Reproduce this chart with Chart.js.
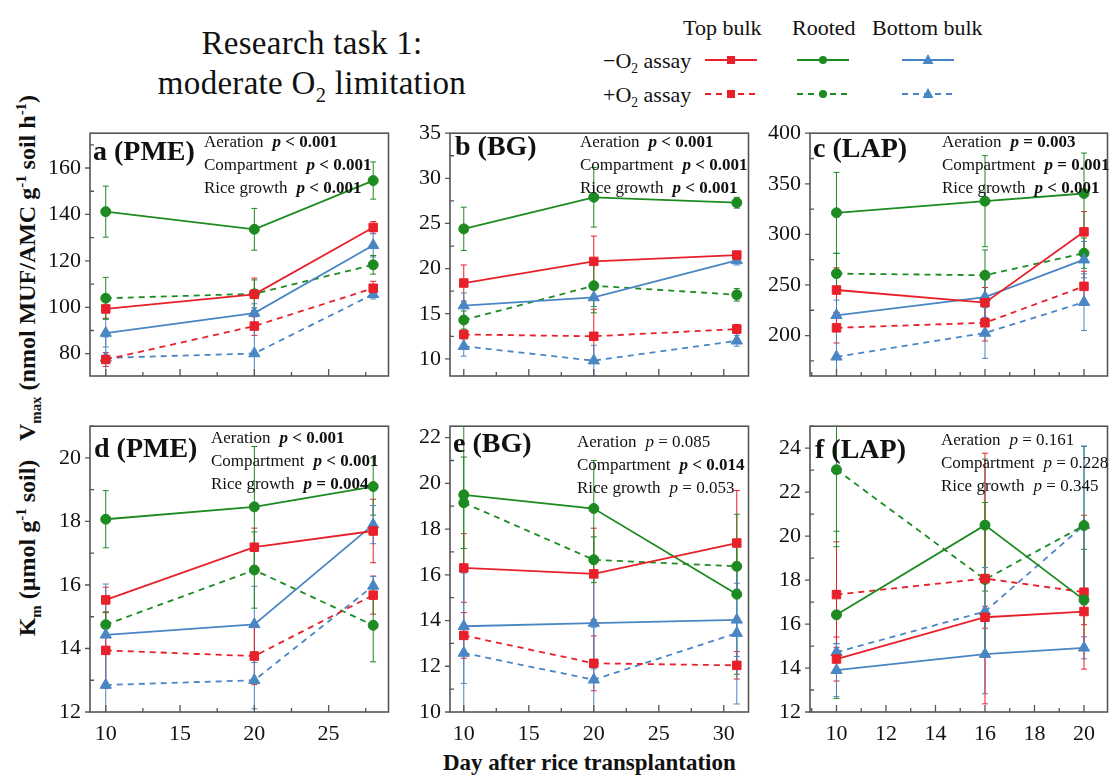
<!DOCTYPE html>
<html>
<head>
<meta charset="utf-8">
<script src="https://cdn.jsdelivr.net/npm/chart.js@4.4.0/dist/chart.umd.min.js"></script>
<style>
  body { margin: 0; background: #fff; }
  #page { position: relative; width: 1115px; height: 778px; overflow: hidden; font-family: "Liberation Serif", "Times New Roman", serif; color: #111; }
  canvas { position: absolute; }
  .txt { position: absolute; white-space: nowrap; line-height: 1; }
  .title { font-size: 33px; width: 600px; text-align: center; letter-spacing: 0.3px; }
  .leg { font-size: 22px; }
  .axlab { font-size: 24px; font-weight: bold; }
  sub, sup { font-size: 62%; line-height: 0; }
  .rot { transform: translate(-50%, -50%) rotate(-90deg); }
</style>
</head>
<body>
<div id="page">
  <div class="txt title" style="left:12px; top:27px;">Research task 1:</div>
  <div class="txt title" style="left:12px; top:67px;">moderate O<sub>2</sub> limitation</div>

  <div class="txt leg" style="left:683px; top:17px;">Top bulk</div>
  <div class="txt leg" style="left:792px; top:17px;">Rooted</div>
  <div class="txt leg" style="left:872px; top:17px;">Bottom bulk</div>
  <div class="txt leg" style="left:603px; top:50px;">&minus;O<sub>2</sub> assay</div>
  <div class="txt leg" style="left:603px; top:84px;">+O<sub>2</sub> assay</div>
  <svg id="legendKeys" style="position:absolute; left:0; top:0;" width="1115" height="110"></svg>

  <div class="txt axlab rot" style="left:27px; top:268px;">V<sub>max</sub> (nmol MUF/AMC g<sup>-1</sup> soil h<sup>-1</sup>)</div>
  <div class="txt axlab rot" style="left:27px; top:548px;">K<sub>m</sub> (&micro;mol g<sup>-1</sup> soil)</div>
  <div class="txt axlab" style="left:443px; top:751px; font-size:23px;">Day after rice transplantation</div>

  <canvas id="chartA"></canvas>
  <canvas id="chartB"></canvas>
  <canvas id="chartC"></canvas>
  <canvas id="chartD"></canvas>
  <canvas id="chartE"></canvas>
  <canvas id="chartF"></canvas>
</div>

<script>
// sampling days per enzyme
const daysPME = [10, 20, 28];
const daysBG = [10, 20, 31];
const daysLAP = [10, 16, 20];

// series order in every table below:
// top bulk -O2, rooted -O2, bottom bulk -O2, top bulk +O2, rooted +O2, bottom bulk +O2
const vmaxPME = [
  [99.3, 105.6, 134.4],
  [141.2, 133.6, 154.6],
  [88.9, 97.5, 126.7],
  [77.5, 91.9, 108.2],
  [103.9, 105.8, 118.3],
  [78.2, 80.1, 105.6]
];
const vmaxPMEse = [
  [4, 7, 2.5], [11, 9, 8], [6, 4, 5],
  [3, 4, 3], [9, 6, 4], [9, 17, 2]
];

const vmaxBG = [
  [18.4, 20.8, 21.5],
  [24.4, 27.9, 27.3],
  [15.9, 16.8, 20.9],
  [12.7, 12.5, 13.3],
  [14.3, 18.1, 17.1],
  [11.4, 9.8, 12.0]
];
const vmaxBGse = [
  [2, 2.8, 0.3], [2.4, 3.3, 0.6], [1.4, 1, 0.5],
  [0.5, 3, 0.5], [1, 3, 0.7], [1.1, 1.7, 0.6]
];

const vmaxLAP = [
  [245, 232.5, 302.5],
  [321.3, 332.8, 340.4],
  [220, 238, 275],
  [207.6, 212.6, 248.6],
  [261.2, 259.6, 281.4],
  [179, 202.5, 233]
];
const vmaxLAPse = [
  [22, 15, 20], [40, 45, 40], [15, 20, 18],
  [15, 18, 15], [20, 25, 15], [25, 25, 28]
];

const kmPME = [
  [15.53, 17.19, 17.7],
  [18.07, 18.46, 19.1],
  [14.43, 14.76, 17.9],
  [13.94, 13.76, 15.68],
  [14.75, 16.47, 14.73],
  [12.85, 13.0, 15.97]
];
const kmPMEse = [
  [0.4, 0.6, 1.0], [0.9, 1.9, 0.9], [1.6, 1.2, 0.6],
  [1.2, 0.9, 0.6], [0.4, 1.2, 1.15], [1.2, 0.9, 0.3]
];

const kmBG = [
  [16.3, 16.04, 17.39],
  [19.5, 18.9, 15.15],
  [13.75, 13.89, 14.03],
  [13.35, 12.13, 12.04],
  [19.15, 16.66, 16.37],
  [12.58, 11.41, 13.45]
];
const kmBGse = [
  [1.5, 2, 2.3], [3.2, 2.1, 3.5], [2.5, 2, 1.6],
  [1, 1.2, 0.6], [2, 1, 1], [3.5, 2.3, 3.1]
];

const kmLAP = [
  [14.41, 16.31, 16.57],
  [16.42, 20.5, 17.1],
  [13.9, 14.63, 14.92],
  [17.34, 18.07, 17.45],
  [23.02, 18.03, 20.48],
  [14.72, 16.57, 20.5]
];
const kmLAPse = [
  [1, 0.5, 0.6], [3.8, 3, 2.3], [1.2, 1.8, 0.5],
  [2.4, 5.7, 3.5], [3.5, 3.5, 3.6], [0.4, 2, 3.6]
];

// axis tick labels
const xTicksPME = [10, 15, 20, 25];
const xTicksBG = [10, 15, 20, 25, 30];
const xTicksLAP = [10, 12, 14, 16, 18, 20];
const yTicksVmaxPME = [80, 100, 120, 140, 160];
const yTicksVmaxBG = [10, 15, 20, 25, 30, 35];
const yTicksVmaxLAP = [200, 250, 300, 350, 400];
const yTicksKmPME = [12, 14, 16, 18, 20];
const yTicksKmBG = [10, 12, 14, 16, 18, 20, 22];
const yTicksKmLAP = [12, 14, 16, 18, 20, 22, 24];

// ANOVA results printed in each panel: [factor, relation, p, significant]
const statsA = [['Aeration', '<', '0.001', true], ['Compartment', '<', '0.001', true], ['Rice growth', '<', '0.001', true]];
const statsB = [['Aeration', '<', '0.001', true], ['Compartment', '<', '0.001', true], ['Rice growth', '<', '0.001', true]];
const statsC = [['Aeration', '=', '0.003', true], ['Compartment', '=', '0.001', true], ['Rice growth', '<', '0.001', true]];
const statsD = [['Aeration', '<', '0.001', true], ['Compartment', '<', '0.001', true], ['Rice growth', '=', '0.004', true]];
const statsE = [['Aeration', '=', '0.085', false], ['Compartment', '<', '0.014', true], ['Rice growth', '=', '0.053', false]];
const statsF = [['Aeration', '=', '0.161', false], ['Compartment', '=', '0.228', false], ['Rice growth', '=', '0.345', false]];

const RED = '#e8202a', GREEN = '#1e8a22', BLUE = '#4a86c4';
const seriesStyle = [
  { color: RED, point: 'rect', radius: 6, dash: [] },
  { color: GREEN, point: 'circle', radius: 5, dash: [] },
  { color: BLUE, point: 'triangle', radius: 6.5, dash: [] },
  { color: RED, point: 'rect', radius: 6, dash: [6, 5] },
  { color: GREEN, point: 'circle', radius: 5, dash: [6, 5] },
  { color: BLUE, point: 'triangle', radius: 6.5, dash: [6, 5] }
];

const SERIF = '"Liberation Serif", "Times New Roman", serif';

// vertical error bars with small caps, clipped to the plot box
const errorBarPlugin = {
  id: 'errorBars',
  beforeDatasetsDraw(chart) {
    const { ctx, chartArea: a } = chart;
    const ys = chart.scales.y;
    ctx.save();
    ctx.beginPath();
    ctx.rect(a.left, a.top, a.right - a.left, a.bottom - a.top);
    ctx.clip();
    chart.data.datasets.forEach((ds, i) => {
      const meta = chart.getDatasetMeta(i);
      ctx.strokeStyle = ds.borderColor;
      ctx.lineWidth = 1;
      ctx.setLineDash([]);
      meta.data.forEach((pt, j) => {
        const v = ds.data[j].y, e = ds.errors[j];
        const y1 = ys.getPixelForValue(v + e);
        const y2 = ys.getPixelForValue(v - e);
        ctx.beginPath();
        ctx.moveTo(pt.x, y1); ctx.lineTo(pt.x, y2);
        ctx.moveTo(pt.x - 3, y1); ctx.lineTo(pt.x + 3, y1);
        ctx.moveTo(pt.x - 3, y2); ctx.lineTo(pt.x + 3, y2);
        ctx.stroke();
      });
    });
    ctx.restore();
  }
};

function minorsOf(ticks, min, max) {
  const step = ticks[1] - ticks[0];
  const out = [];
  for (let v = ticks[0] - step / 2; v <= max; v += step) {
    if (v >= min) out.push(v);
  }
  return out;
}

// plot box, tick marks, panel letter and statistics text
const framePlugin = {
  id: 'frame',
  afterDraw(chart, args, opts) {
    const { ctx, chartArea: a } = chart;
    const xs = chart.scales.x, ys = chart.scales.y;
    ctx.save();
    ctx.strokeStyle = '#555';
    ctx.lineWidth = 1.6;
    ctx.setLineDash([]);
    ctx.strokeRect(a.left, a.top, a.right - a.left, a.bottom - a.top);

    ctx.lineWidth = 1.3;
    ctx.beginPath();
    opts.xTicks.forEach(v => {
      const x = xs.getPixelForValue(v);
      ctx.moveTo(x, a.bottom); ctx.lineTo(x, a.bottom - 7);
    });
    minorsOf(opts.xTicks, xs.min, xs.max).forEach(v => {
      const x = xs.getPixelForValue(v);
      ctx.moveTo(x, a.bottom); ctx.lineTo(x, a.bottom - 4);
    });
    opts.yTicks.forEach(v => {
      const y = ys.getPixelForValue(v);
      ctx.moveTo(a.left, y); ctx.lineTo(a.left - 5, y);
    });
    minorsOf(opts.yTicks, ys.min, ys.max).forEach(v => {
      const y = ys.getPixelForValue(v);
      ctx.moveTo(a.left, y); ctx.lineTo(a.left + 4, y);
    });
    ctx.stroke();

    ctx.fillStyle = '#111';
    ctx.textBaseline = 'alphabetic';
    ctx.font = 'bold 28px ' + SERIF;
    ctx.fillText(opts.label, a.left + opts.labelPos[0], a.top + opts.labelPos[1]);

    opts.stats.forEach((row, k) => {
      const [factor, rel, p, sig] = row;
      let x = a.left + opts.statsPos[0];
      const y = a.top + opts.statsPos[1] + k * 23;
      ctx.font = '17px ' + SERIF;
      ctx.fillText(factor, x, y);
      x += ctx.measureText(factor).width + 9;
      ctx.font = (sig ? 'bold ' : '') + 'italic 17px ' + SERIF;
      ctx.fillText('p', x, y);
      x += ctx.measureText('p').width;
      ctx.font = (sig ? 'bold ' : '') + '17px ' + SERIF;
      ctx.fillText(' ' + rel + ' ' + p, x, y);
    });
    ctx.restore();
  }
};

const panels = [
  { id: 'chartA', days: daysPME, vals: vmaxPME, errs: vmaxPMEse, xTicks: xTicksPME, xMin: 8.94, xMax: 29.03,
    yTicks: yTicksVmaxPME, yMin: 70.4, yMax: 175, left: 90, top: 123, w: 303, h: 293, bottomRow: false,
    label: 'a (PME)', labelPos: [3, 27], stats: statsA, statsPos: [114, 14] },
  { id: 'chartB', days: daysBG, vals: vmaxBG, errs: vmaxBGse, xTicks: xTicksBG, xMin: 8.94, xMax: 31.9,
    yTicks: yTicksVmaxBG, yMin: 8.1, yMax: 35, left: 450, top: 123, w: 303, h: 293, bottomRow: false,
    label: 'b (BG)', labelPos: [5, 22], stats: statsB, statsPos: [130, 14] },
  { id: 'chartC', days: daysLAP, vals: vmaxLAP, errs: vmaxLAPse, xTicks: xTicksLAP, xMin: 8.93, xMax: 20.95,
    yTicks: yTicksVmaxLAP, yMin: 160, yMax: 400, left: 810, top: 123, w: 302, h: 293, bottomRow: false,
    label: 'c (LAP)', labelPos: [3, 24], stats: statsC, statsPos: [132, 14] },
  { id: 'chartD', days: daysPME, vals: kmPME, errs: kmPMEse, xTicks: xTicksPME, xMin: 8.94, xMax: 29.03,
    yTicks: yTicksKmPME, yMin: 12, yMax: 21, left: 90, top: 416, w: 303, h: 296, bottomRow: true,
    label: 'd (PME)', labelPos: [4, 31], stats: statsD, statsPos: [121, 17] },
  { id: 'chartE', days: daysBG, vals: kmBG, errs: kmBGse, xTicks: xTicksBG, xMin: 8.94, xMax: 31.9,
    yTicks: yTicksKmBG, yMin: 10, yMax: 22.5, left: 450, top: 416, w: 303, h: 296, bottomRow: true,
    label: 'e (BG)', labelPos: [3, 26], stats: statsE, statsPos: [127, 21] },
  { id: 'chartF', days: daysLAP, vals: kmLAP, errs: kmLAPse, xTicks: xTicksLAP, xMin: 8.93, xMax: 20.95,
    yTicks: yTicksKmLAP, yMin: 12, yMax: 25, left: 810, top: 416, w: 302, h: 296, bottomRow: true,
    label: 'f (LAP)', labelPos: [5, 32], stats: statsF, statsPos: [131, 19] }
];

const AXIS_W = 60, PAD_TOP = 12, PAD_RIGHT = 3, X_AXIS_H = 40;

panels.forEach(p => {
  const canvas = document.getElementById(p.id);
  const cw = AXIS_W + p.w + PAD_RIGHT;
  const ch = PAD_TOP + p.h + (p.bottomRow ? X_AXIS_H : 2);
  canvas.width = cw;
  canvas.height = ch;
  canvas.style.left = (p.left - AXIS_W) + 'px';
  canvas.style.top = (p.top - PAD_TOP) + 'px';

  const datasets = p.vals.map((vals, i) => {
    const s = seriesStyle[i];
    return {
      data: vals.map((v, j) => ({ x: p.days[j], y: v })),
      errors: p.errs[i],
      borderColor: s.color,
      backgroundColor: s.color,
      borderWidth: 1.8,
      borderDash: s.dash,
      pointStyle: s.point,
      pointRadius: s.radius,
      pointBackgroundColor: s.color,
      pointBorderColor: s.color,
      pointBorderWidth: 1,
      tension: 0,
      fill: false
    };
  });

  new Chart(canvas, {
    type: 'line',
    data: { datasets },
    plugins: [errorBarPlugin, framePlugin],
    options: {
      responsive: false,
      animation: false,
      devicePixelRatio: 1,
      layout: { padding: { top: PAD_TOP, right: PAD_RIGHT, left: 0, bottom: p.bottomRow ? 0 : 2 } },
      plugins: {
        legend: { display: false },
        tooltip: { enabled: false },
        frame: { xTicks: p.xTicks, yTicks: p.yTicks, label: p.label, labelPos: p.labelPos, stats: p.stats, statsPos: p.statsPos }
      },
      scales: {
        x: {
          type: 'linear',
          min: p.xMin,
          max: p.xMax,
          display: p.bottomRow,
          afterBuildTicks: s => { s.ticks = p.xTicks.map(v => ({ value: v })); },
          afterFit: s => { s.height = X_AXIS_H; },
          grid: { display: false, drawTicks: false },
          border: { display: false },
          ticks: { color: '#111', padding: 9, maxRotation: 0, font: { family: SERIF, size: 22 } }
        },
        y: {
          type: 'linear',
          min: p.yMin,
          max: p.yMax,
          afterBuildTicks: s => { s.ticks = p.yTicks.map(v => ({ value: v })); },
          afterFit: s => { s.width = AXIS_W; },
          grid: { display: false, drawTicks: false },
          border: { display: false },
          ticks: { color: '#111', padding: 9, font: { family: SERIF, size: 22 } }
        }
      }
    }
  });
});

// legend keys: line sample with the series marker in the middle
const svg = document.getElementById('legendKeys');
const NS = 'http://www.w3.org/2000/svg';
const keyX = [[705, 757], [797, 849], [902, 954]];
const keyY = [60, 94];
seriesStyle.forEach((s, i) => {
  const [x1, x2] = keyX[i % 3];
  const y = keyY[i < 3 ? 0 : 1];
  const line = document.createElementNS(NS, 'line');
  line.setAttribute('x1', x1); line.setAttribute('x2', x2);
  line.setAttribute('y1', y); line.setAttribute('y2', y);
  line.setAttribute('stroke', s.color); line.setAttribute('stroke-width', 1.8);
  if (s.dash.length) line.setAttribute('stroke-dasharray', '6 5');
  svg.appendChild(line);
  const cx = (x1 + x2) / 2;
  let m;
  if (s.point === 'rect') {
    m = document.createElementNS(NS, 'rect');
    m.setAttribute('x', cx - 4); m.setAttribute('y', y - 4);
    m.setAttribute('width', 8); m.setAttribute('height', 8);
  } else if (s.point === 'circle') {
    m = document.createElementNS(NS, 'circle');
    m.setAttribute('cx', cx); m.setAttribute('cy', y); m.setAttribute('r', 4);
  } else {
    m = document.createElementNS(NS, 'polygon');
    m.setAttribute('points', `${cx},${y - 6} ${cx - 5.5},${y + 4} ${cx + 5.5},${y + 4}`);
  }
  m.setAttribute('fill', s.color);
  svg.appendChild(m);
});
</script>
</body>
</html>
